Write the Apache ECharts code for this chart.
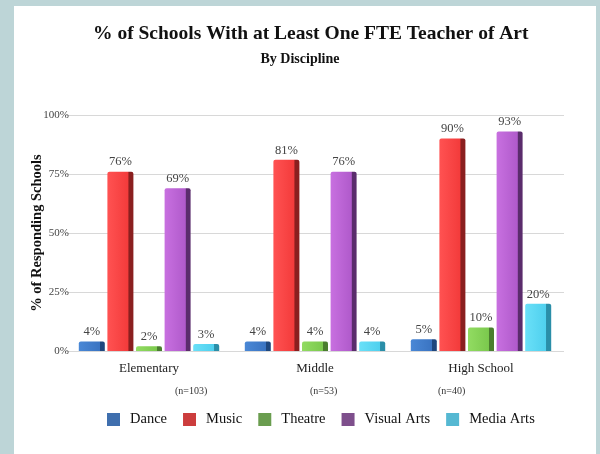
<!DOCTYPE html>
<html>
<head>
<meta charset="utf-8">
<script src="https://cdn.jsdelivr.net/npm/echarts@6/dist/echarts.min.js"></script>
<style>
html,body{margin:0;padding:0;background:#bdd5d7;}
#panel{position:absolute;left:14px;top:6px;width:582px;height:448px;background:#fff;}
#chart{position:absolute;left:0;top:0;width:600px;height:454px;}
</style>
</head>
<body>
<div id="panel"></div>
<div id="chart"></div>
<script>
const categories = ['Elementary', 'Middle', 'High School'];
const sampleSizes = ['(n=103)', '(n=53)', '(n=40)'];
const dance = [4, 4, 5];
const music = [76, 81, 90];
const theatre = [2, 4, 10];
const visualArts = [69, 76, 93];
const mediaArts = [3, 4, 20];
const yTicks = [0, 25, 50, 75, 100];

const serif = '"Liberation Serif", "DejaVu Serif", serif';
const palette = {
  Dance: { light: '#4a88d6', main: '#3a74c2', dark: '#1e477e', legend: '#3f6fae' },
  Music: { light: '#ff5252', main: '#f33b3b', dark: '#8a1f1f', legend: '#cc3d3d' },
  Theatre: { light: '#92dc62', main: '#7bc94d', dark: '#4a7e2e', legend: '#6a9d4f' },
  'Visual Arts': { light: '#c870e0', main: '#b05acb', dark: '#5a2c6c', legend: '#7e4f8c' },
  'Media Arts': { light: '#6ae0f8', main: '#4fd0ee', dark: '#2a8ea8', legend: '#55b8d2' }
};

function grad(p) {
  return new echarts.graphic.LinearGradient(0, 0, 1, 0, [
    { offset: 0, color: p.light },
    { offset: 0.8, color: p.main },
    { offset: 0.82, color: p.dark },
    { offset: 1, color: p.dark }
  ]);
}

const seriesData = [
  ['Dance', dance], ['Music', music], ['Theatre', theatre],
  ['Visual Arts', visualArts], ['Media Arts', mediaArts]
];

const chart = echarts.init(document.getElementById('chart'), null, { renderer: 'canvas' });
chart.setOption({
  backgroundColor: 'transparent',
  animation: false,
  title: [
    { text: '% of Schools With at Least One FTE Teacher of Art', left: 88, top: 19,
      textStyle: { fontFamily: serif, fontWeight: 'bold', fontSize: 19.5, color: '#111' } },
    { text: 'By Discipline', left: 'center', top: 47,
      textStyle: { fontFamily: serif, fontWeight: 'bold', fontSize: 14, color: '#111' } }
  ],
  grid: { left: 66, right: 36, top: 115, bottom: 103 },
  legend: {
    left: 102, top: 407, itemWidth: 13, itemHeight: 13, itemGap: 16,
    icon: 'rect',
    textStyle: { fontFamily: serif, fontSize: 14.5, color: '#111', padding: [0, 0, 0, 5] },
    data: seriesData.map(s => ({ name: s[0], itemStyle: { color: palette[s[0]].legend } }))
  },
  xAxis: {
    type: 'category', data: categories,
    axisLine: { show: false }, axisTick: { show: false },
    axisLabel: { fontFamily: serif, fontSize: 13, color: '#222', margin: 11 }
  },
  yAxis: {
    type: 'value', min: 0, max: 100, interval: 25,
    name: '% of Responding Schools', nameLocation: 'middle', nameGap: 21,
    nameMoveOverlap: false,
    nameTextStyle: { fontFamily: serif, fontWeight: 'bold', fontSize: 14.5, color: '#111' },
    axisLabel: { formatter: '{value}%', fontFamily: serif, fontSize: 11, color: '#444', margin: -3 },
    splitLine: { lineStyle: { color: '#d8d8d8' } },
    axisLine: { show: false }, axisTick: { show: false }
  },
  series: seriesData.map(s => ({
    name: s[0], type: 'bar', data: s[1], barWidth: 26, barGap: '10%',
    itemStyle: { color: grad(palette[s[0]]), borderRadius: [2, 2, 0, 0] },
    label: { show: true, position: 'top', formatter: '{c}%', fontFamily: serif, fontSize: 12.5, color: '#444', distance: 3 }
  })),
  graphic: [
    { type: 'text', left: 175, top: 386, style: { text: sampleSizes[0], font: '10px ' + serif, fill: '#333' } },
    { type: 'text', left: 310, top: 386, style: { text: sampleSizes[1], font: '10px ' + serif, fill: '#333' } },
    { type: 'text', left: 438, top: 386, style: { text: sampleSizes[2], font: '10px ' + serif, fill: '#333' } }
  ]
});
</script>
</body>
</html>
